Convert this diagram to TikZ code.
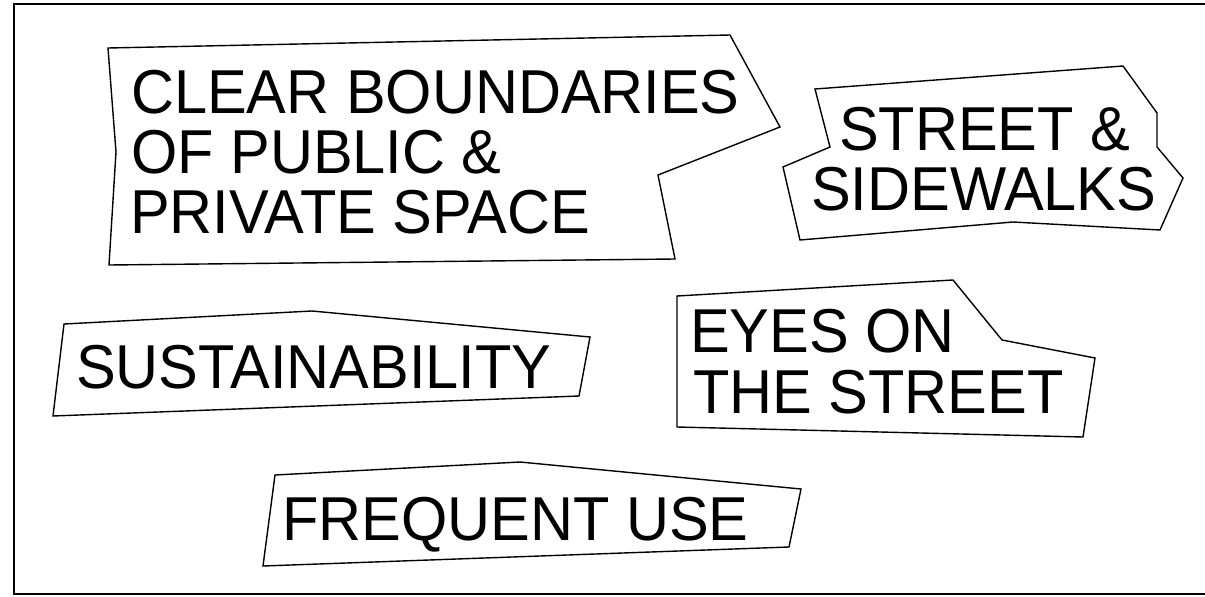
\documentclass[tikz,border=0pt]{standalone}
\usepackage{graphicx}
\usepackage{fontspec}
\setmainfont{Liberation Sans}
\newcommand{\narrowtext}[1]{\scalebox{0.96}[1]{#1}}
\begin{document}
\begin{tikzpicture}[x=1pt,y=-1pt,
  lbl/.style={anchor=base west, inner sep=0pt, font=\fontsize{62}{62}\selectfont},
  outline/.style={draw=black, line width=1.4pt, line join=miter}]
\useasboundingbox (0,0) rectangle (1205,597);
% frame
\draw[line width=2pt] (1212,4) -- (14,4) -- (14,594) -- (1212,594);
% polygons
\draw[outline] (108,48) -- (730,35) -- (780,127) -- (658,175) -- (675,259) -- (109,265) -- (116,152) -- cycle;
\draw[outline] (815,89) -- (1123,66) -- (1157,113) -- (1157,147) -- (1183,178) -- (1160,230) -- (1013,222) -- (800,240) -- (783,167) -- (830,147) -- cycle;
\draw[outline] (64,324) -- (312,311) -- (590,337) -- (579,396) -- (53,416) -- cycle;
\draw[outline] (677,296) -- (953,280) -- (1002,340) -- (1095,358) -- (1083,437) -- (677,427) -- cycle;
\draw[outline] (275,475) -- (520,462) -- (801,489) -- (789,547) -- (263,566) -- cycle;
% texts
\node[lbl] (c1) at (131,113) {\narrowtext{CLEAR BOUNDARIES}};
\node[lbl] (c2) at (131,173) {\narrowtext{OF PUBLIC \&}};
\node[lbl] (c3) at (130,233) {\narrowtext{PRIVATE SPACE}};
\node[lbl] (s1) at (839,150) {\narrowtext{STREET \&}};
\node[lbl] (s2) at (811,210) {\narrowtext{SIDEWALKS}};
\node[lbl] (su) at (76,388) {\narrowtext{SUSTAINABILITY}};
\node[lbl] (e1) at (690,352) {\narrowtext{EYES ON}};
\node[lbl] (e2) at (693,413) {\narrowtext{THE STREET}};
\node[lbl] (fu) at (282,540) {\narrowtext{FREQUENT USE}};
\end{tikzpicture}
\end{document}
